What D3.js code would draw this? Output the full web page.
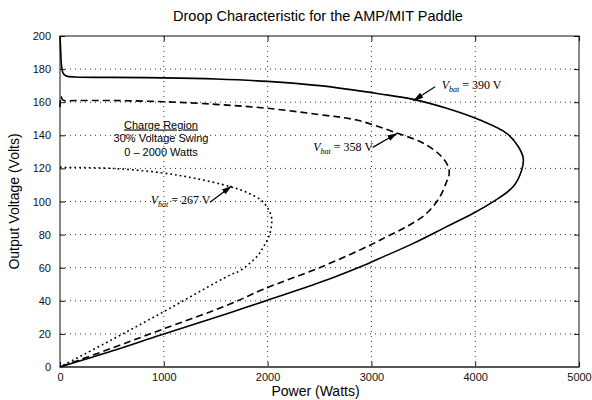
<!DOCTYPE html>
<html>
<head>
<meta charset="utf-8">
<script src="https://cdn.jsdelivr.net/npm/d3@7"></script>
<style>
  html, body { margin: 0; padding: 0; background: #fff; }
  svg { display: block; }
  .tick text { font-family: "Liberation Sans", Arial, sans-serif; font-size: 11px; fill: #111; }
  .tick line { stroke: #111; }
  .grid line { stroke: #333; stroke-width: 1; stroke-dasharray: 1,4; }
</style>
</head>
<body>
<svg id="chart" width="592" height="400"></svg>
<script>
// Axis ticks
const powerTicks = [0, 1000, 2000, 3000, 4000, 5000];
const voltTicks = [0, 20, 40, 60, 80, 100, 120, 140, 160, 180, 200];

// Vbat = 390 V (solid), traced from the top branch round the nose to the origin
const solidPower = [0, 6, 15, 30, 60, 150, 500, 1000, 1500, 2000, 2500, 3083, 3404, 3725, 4046, 4303, 4416, 4463, 4448, 4367, 4174, 3982, 3725, 3404, 3083, 2971, 2500, 1959, 1638, 970, 500, 0];
const solidVolts = [200, 192, 182, 177.5, 175.8, 175.2, 175, 174.7, 174, 172.6, 170, 165, 161.7, 156.3, 149.2, 141.2, 133.1, 126, 119, 109, 99.9, 92.9, 84.8, 74.7, 65.7, 62.6, 51, 39.5, 32.8, 19.3, 9.6, 0];

// Vbat = 358 V (dashed)
const dashedPower = [0, 10, 25, 50, 150, 500, 1000, 1500, 2000, 2500, 2858, 3244, 3500, 3661, 3741, 3748, 3725, 3661, 3533, 3340, 3147, 2971, 2500, 1959, 1638, 970, 500, 0];
const dashedVolts = [157, 163.5, 161.5, 160.8, 161, 161, 160.3, 158.7, 156.3, 152.5, 149.2, 141.4, 135.2, 128.1, 121, 116, 112, 102.9, 92.9, 84.8, 78.7, 73.1, 60, 47, 38, 22.4, 11.4, 0];

// Vbat = 267 V (dotted)
const dottedPower = [0, 500, 970, 1300, 1638, 1800, 1943, 2010, 2039, 2023, 1960, 1895, 1734, 1638, 970, 500, 0];
const dottedVolts = [120.6, 120, 117.4, 114, 109, 105.5, 100.5, 95, 89.8, 80.8, 72.5, 66.6, 58.2, 55.6, 32.4, 16.5, 0];

// Annotations: label, arrow tail and tip, text start (power, volts)
const labelVolts = ["390", "358", "267"];
const arrowTail = [[3613, 169.4], [3013, 132.7], [1445, 99.5]];
const arrowTip = [[3404, 160.9], [3250, 141.3], [1654, 109.4]];
const labelAt = [[3677, 167.8], [2440, 130.8], [874, 98.5]];

const regionLines = ["Charge Region", "30% Voltage Swing", "0 \u2013 2000 Watts"];

const svg = d3.select("#chart");
const sans = '"Liberation Sans", Arial, sans-serif';
const serif = '"Liberation Serif", "Times New Roman", serif';

const x = d3.scaleLinear().domain([0, 5000]).range([60, 579]);
const y = d3.scaleLinear().domain([0, 200]).range([367, 36]);

// grid
const grid = svg.append("g").attr("class", "grid");
grid.selectAll(".vx").data(powerTicks.slice(1, -1)).join("line")
    .attr("x1", d => x(d)).attr("x2", d => x(d))
    .attr("y1", y(0)).attr("y2", y(200));
grid.selectAll(".hy").data(voltTicks.slice(1, -1)).join("line")
    .attr("x1", x(0)).attr("x2", x(5000))
    .attr("y1", d => y(d)).attr("y2", d => y(d));

// axes (inward ticks on all four sides)
const fmt = d3.format("d");
svg.append("g").attr("transform", `translate(0,${y(0)})`)
    .call(d3.axisBottom(x).tickValues(powerTicks).tickFormat(fmt).tickSize(-5).tickSizeOuter(0).tickPadding(6));
svg.append("g").attr("transform", `translate(${x(0)},0)`)
    .call(d3.axisLeft(y).tickValues(voltTicks).tickFormat(fmt).tickSize(-5).tickSizeOuter(0).tickPadding(9));
svg.append("g").attr("transform", `translate(0,${y(200)})`)
    .call(d3.axisTop(x).tickValues(powerTicks).tickSize(-5).tickSizeOuter(0).tickFormat(""));
svg.append("g").attr("transform", `translate(${x(5000)},0)`)
    .call(d3.axisRight(y).tickValues(voltTicks).tickSize(-5).tickSizeOuter(0).tickFormat(""));
svg.selectAll(".domain").remove();

svg.append("rect")
    .attr("x", x(0)).attr("y", y(200))
    .attr("width", x(5000) - x(0)).attr("height", y(0) - y(200))
    .attr("fill", "none").attr("stroke", "#111").attr("stroke-width", 1);
svg.append("line")
    .attr("x1", x(0)).attr("x2", x(5000)).attr("y1", y(0)).attr("y2", y(0))
    .attr("stroke", "#555").attr("stroke-width", 2);

// curves
const line = d3.line()
    .x(d => x(d[0])).y(d => y(d[1]))
    .curve(d3.curveCatmullRom.alpha(0.5));

const curves = [
    { pts: d3.zip(solidPower, solidVolts), dash: null },
    { pts: d3.zip(dashedPower, dashedVolts), dash: "7,4" },
    { pts: d3.zip(dottedPower, dottedVolts), dash: "1.8,3" }
];
curves.forEach(c => {
    svg.append("path")
        .attr("d", line(c.pts))
        .attr("fill", "none")
        .attr("stroke", "#000")
        .attr("stroke-width", 1.6)
        .attr("stroke-dasharray", c.dash);
});

// arrow marker
svg.append("defs").append("marker")
    .attr("id", "head")
    .attr("markerUnits", "userSpaceOnUse")
    .attr("viewBox", "0 0 10 6")
    .attr("refX", 10).attr("refY", 3)
    .attr("markerWidth", 10).attr("markerHeight", 6)
    .attr("orient", "auto")
    .append("path").attr("d", "M0,0L10,3L0,6Z").attr("fill", "#000");

labelVolts.forEach((v, i) => {
    svg.append("line")
        .attr("x1", x(arrowTail[i][0])).attr("y1", y(arrowTail[i][1]))
        .attr("x2", x(arrowTip[i][0])).attr("y2", y(arrowTip[i][1]))
        .attr("stroke", "#000").attr("stroke-width", 1.2)
        .attr("marker-end", "url(#head)");

    const t = svg.append("text")
        .attr("x", x(labelAt[i][0])).attr("y", y(labelAt[i][1]))
        .attr("font-family", serif).attr("font-size", 12).attr("fill", "#000");
    t.append("tspan").attr("font-style", "italic").text("V");
    t.append("tspan").attr("font-style", "italic").attr("font-size", 8).attr("dy", 3).text("bat");
    t.append("tspan").attr("dy", -3).text(` = ${v} V`);
});

// charge region note
regionLines.forEach((s, i) => {
    svg.append("text")
        .attr("x", 161).attr("y", 128.5 + i * 13.8)
        .attr("text-anchor", "middle")
        .attr("font-family", sans).attr("font-size", 11).attr("fill", "#000")
        .attr("text-decoration", i === 0 ? "underline" : null)
        .text(s);
});

// titles
svg.append("text")
    .attr("x", 318).attr("y", 21)
    .attr("text-anchor", "middle")
    .attr("font-family", sans).attr("font-size", 14.5).attr("fill", "#000")
    .text("Droop Characteristic for the AMP/MIT Paddle");

svg.append("text")
    .attr("x", (x(0) + x(5000)) / 2 - 4).attr("y", 396)
    .attr("text-anchor", "middle")
    .attr("font-family", sans).attr("font-size", 14).attr("fill", "#000")
    .text("Power (Watts)");

svg.append("text")
    .attr("transform", `translate(19,${(y(0) + y(200)) / 2}) rotate(-90)`)
    .attr("text-anchor", "middle")
    .attr("font-family", sans).attr("font-size", 14).attr("fill", "#000")
    .text("Output Voltage (Volts)");
</script>
</body>
</html>
